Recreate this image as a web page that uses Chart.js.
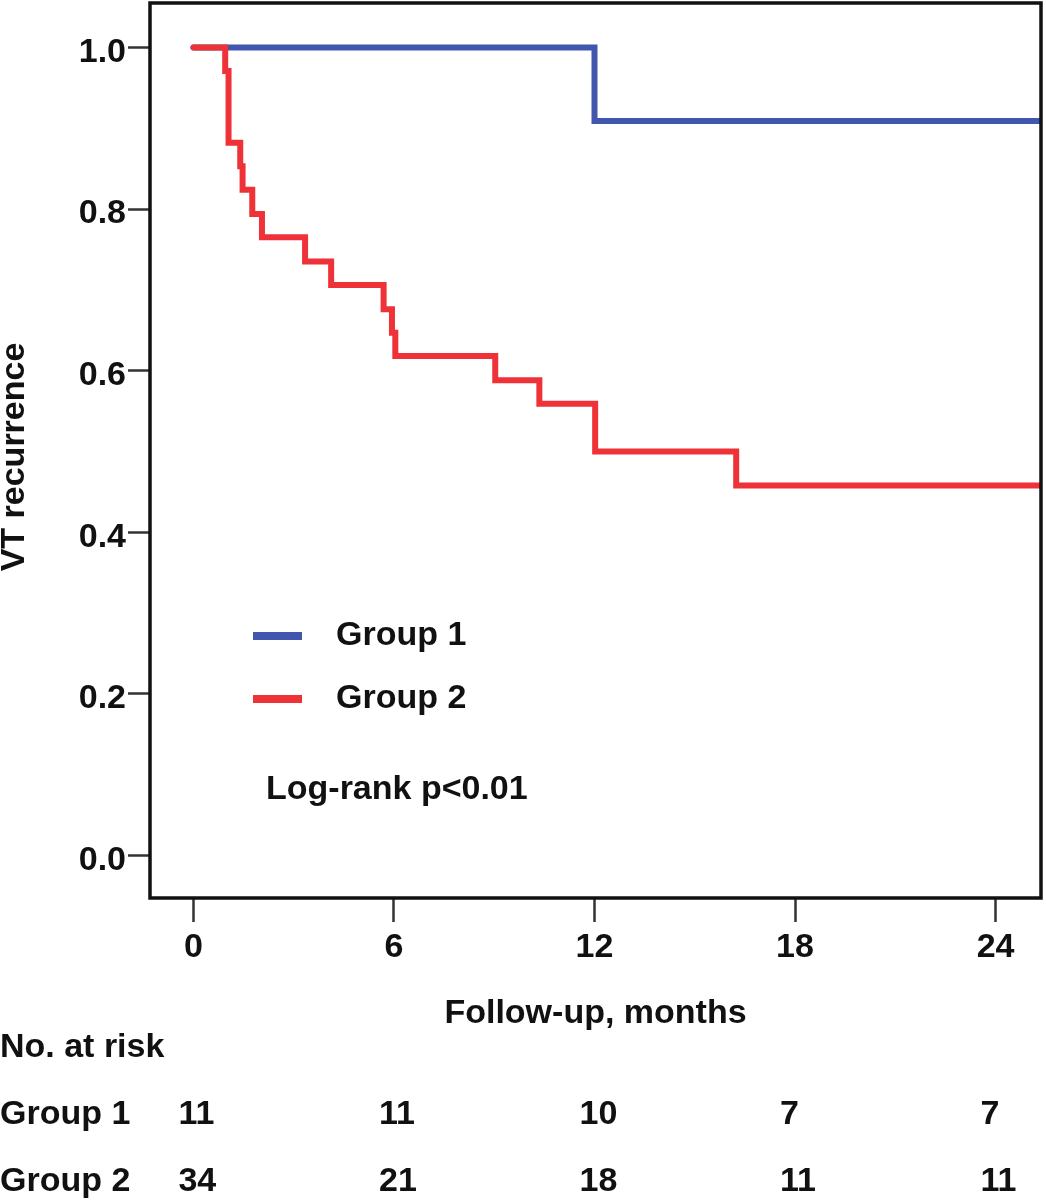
<!DOCTYPE html>
<html>
<head>
<meta charset="utf-8">
<script src="https://cdn.jsdelivr.net/npm/chart.js@4.4.1/dist/chart.umd.min.js"></script>
<style>
  html, body { margin: 0; padding: 0; background: #fff; }
  #wrap { position: relative; width: 1046px; height: 1200px; }
</style>
</head>
<body>
<div id="wrap"><canvas id="kmChart" width="1046" height="1200"></canvas></div>
<script>
// Kaplan-Meier curves, values
const group1Times = [0, 12.0, 25.4];
const group1Surv  = [1, 0.909, 0.909];
const group2Times = [0, 0.95, 1.05, 1.40, 1.47, 1.76, 2.05, 3.34, 4.12, 5.69, 5.94, 6.04, 9.03, 10.35, 12.02, 16.24, 25.4];
const group2Surv  = [1, 0.971, 0.882, 0.853, 0.824, 0.794, 0.765, 0.735, 0.706, 0.676, 0.647, 0.618, 0.588, 0.559, 0.500, 0.458, 0.458];

const xTicks = [0, 6, 12, 18, 24];
const yTicks = [0, 0.2, 0.4, 0.6, 0.8, 1.0];

const seriesNames = ['Group 1', 'Group 2'];
const riskTimes  = [0, 6, 12, 18, 24];
const riskGroup1 = [11, 11, 10, 7, 7];
const riskGroup2 = [34, 21, 18, 11, 11];
const pValueText = 'Log-rank p<0.01';
const yTitle = 'VT recurrence';

const BLUE = '#4157ad';
const RED = '#ee3238';
const FONT = '"Liberation Sans", Arial, Helvetica, sans-serif';

function toPoints(times, surv) {
  return times.map((t, i) => ({ x: t, y: surv[i] }));
}

const kmExtras = {
  id: 'kmExtras',
  afterDraw(chart) {
    const { ctx, chartArea: a, scales: { x } } = chart;
    ctx.save();

    // frame around the plot
    ctx.strokeStyle = '#111';
    ctx.lineWidth = 3.5;
    ctx.strokeRect(a.left, a.top, a.right - a.left, a.bottom - a.top);

    ctx.font = 'bold 34px ' + FONT;
    ctx.fillStyle = '#111';
    ctx.textBaseline = 'middle';

    // y axis title (sits a little below the middle of the plot)
    ctx.save();
    ctx.translate(15, 457);
    ctx.rotate(-Math.PI / 2);
    ctx.textAlign = 'center';
    ctx.fillText(yTitle, 0, 0);
    ctx.restore();

    // legend inside the plot
    ctx.textAlign = 'left';
    ctx.lineWidth = 8;
    [[BLUE, 636], [RED, 699]].forEach(([col, y], i) => {
      ctx.strokeStyle = col;
      ctx.beginPath();
      ctx.moveTo(253, y);
      ctx.lineTo(302, y);
      ctx.stroke();
      ctx.fillText(seriesNames[i], 336, y);
    });
    ctx.fillText(pValueText, 266, 790);

    // number at risk table
    ctx.fillText('No. at risk', 0, 1048);
    [[riskGroup1, 1115], [riskGroup2, 1182]].forEach(([vals, y], i) => {
      ctx.fillText(seriesNames[i], 0, y);
      vals.forEach((v, j) => {
        ctx.fillText(String(v), x.getPixelForValue(riskTimes[j]) - 15, y);
      });
    });
    ctx.restore();
  }
};

new Chart(document.getElementById('kmChart'), {
  type: 'line',
  data: {
    datasets: [
      { label: seriesNames[0], data: toPoints(group1Times, group1Surv), borderColor: BLUE, order: 1 },
      { label: seriesNames[1], data: toPoints(group2Times, group2Surv), borderColor: RED, order: 0 }
    ]
  },
  options: {
    responsive: false,
    animation: false,
    layout: { padding: { top: 3, right: 5, left: 0, bottom: 0 } },
    datasets: {
      line: {
        stepped: true,
        borderWidth: 6,
        pointRadius: 0,
        fill: false,
        borderCapStyle: 'round',
        borderJoinStyle: 'miter',
        clip: 0
      }
    },
    plugins: { legend: { display: false }, tooltip: { enabled: false } },
    scales: {
      x: {
        type: 'linear',
        min: -1.3,
        max: 25.36,
        afterBuildTicks: s => { s.ticks = xTicks.map(v => ({ value: v })); },
        afterFit: s => { s.height = 302; s.paddingLeft = 0; s.paddingRight = 0; },
        grid: { drawOnChartArea: false, drawTicks: true, tickLength: 24, tickWidth: 2.5, tickColor: '#333' },
        border: { display: false },
        ticks: { color: '#111', padding: 5, maxRotation: 0, font: { family: FONT, size: 34, weight: 'bold' } },
        title: {
          display: true,
          text: 'Follow-up, months',
          color: '#111',
          padding: { top: 0, bottom: 166 },
          font: { family: FONT, size: 34, weight: 'bold' }
        }
      },
      y: {
        min: -0.0526,
        max: 1.055,
        afterBuildTicks: s => { s.ticks = yTicks.map(v => ({ value: v })); },
        afterFit: s => { s.width = 150; s.paddingTop = 0; s.paddingBottom = 0; },
        grid: { drawOnChartArea: false, drawTicks: true, tickLength: 22, tickWidth: 2.5, tickColor: '#333' },
        border: { display: false },
        ticks: {
          color: '#111',
          padding: 2,
          labelOffset: 5,
          callback: v => v.toFixed(1),
          font: { family: FONT, size: 34, weight: 'bold' }
        }
      }
    }
  },
  plugins: [kmExtras]
});
</script>
</body>
</html>
